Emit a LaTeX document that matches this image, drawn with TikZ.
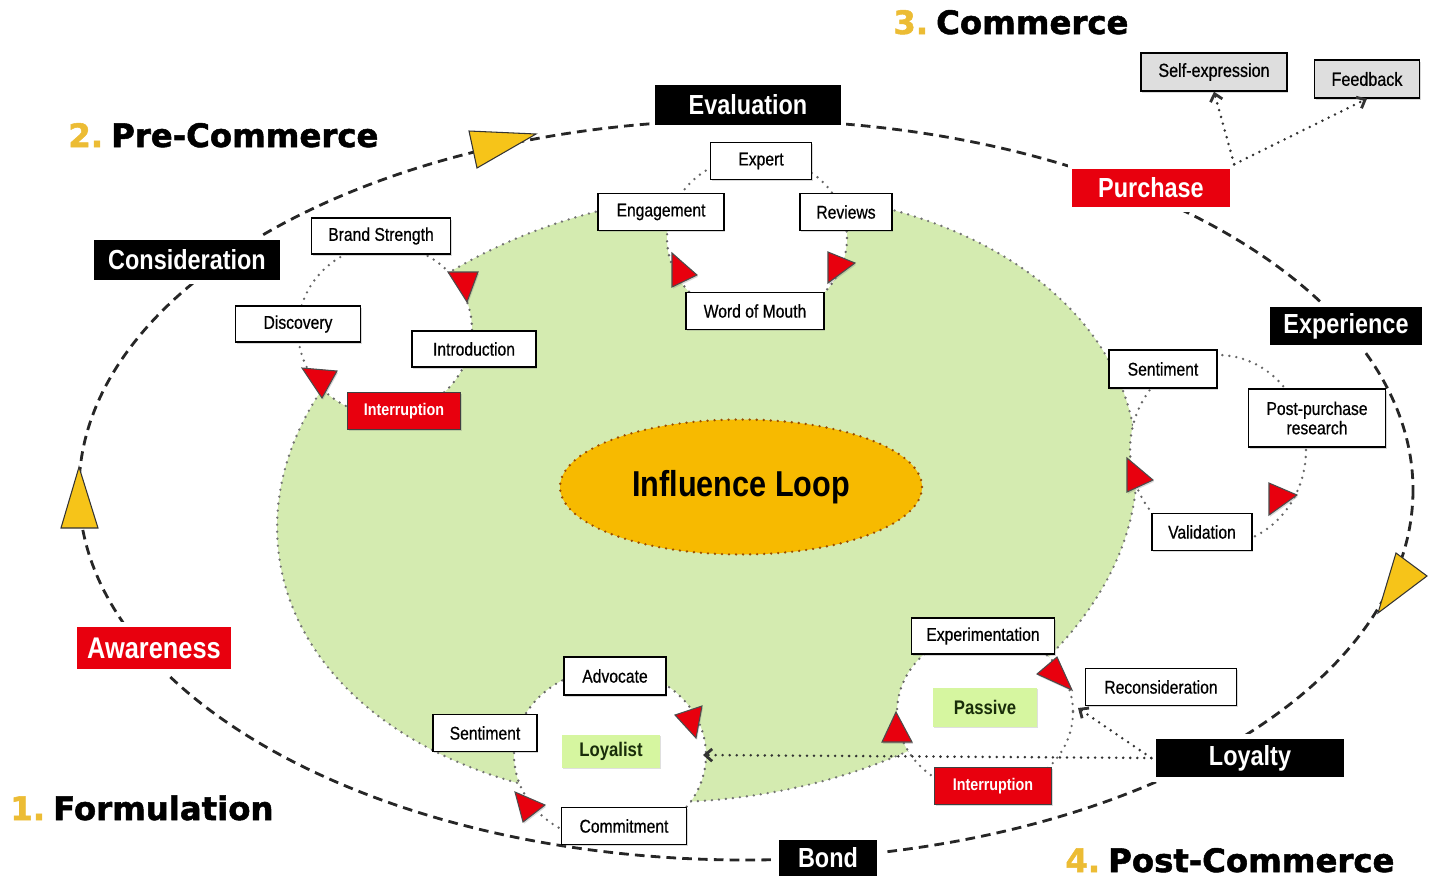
\documentclass[tikz,border=0pt]{standalone}
\usepackage{fontspec}
\setmainfont{Liberation Sans}[FakeStretch=0.85, UprightFeatures={FakeBold=0.6}]
\newfontfamily\titlefont{DejaVu Sans}[BoldFeatures={FakeBold=1.6}]
\usetikzlibrary{shadows,arrows.meta,shapes.geometric}

\definecolor{loopgreen}{RGB}{212,235,176}
\definecolor{loopgold}{RGB}{247,186,0}
\definecolor{stagered}{RGB}{232,0,14}
\definecolor{numgold}{RGB}{236,188,52}
\definecolor{arrowgold}{RGB}{246,196,25}
\definecolor{sharegray}{RGB}{222,222,222}
\definecolor{limefill}{RGB}{214,246,160}
\definecolor{mindtext}{RGB}{25,45,10}

\begin{document}
\begin{tikzpicture}[x=0.02cm, y=-0.02cm,
    phasetitle/.style={anchor=base west, inner sep=0pt, font=\titlefont\bfseries\fontsize{18.4}{20}\selectfont},
    stage/.style={fill=black, text=white, draw=white, line width=2.5pt, inner sep=0pt,
      minimum height=0.88cm, font=\bfseries\fontsize{15.7}{17}\selectfont,
      drop shadow={shadow xshift=0.8pt, shadow yshift=-1.2pt, opacity=0.3}},
    redstage/.style={stage, fill=stagered},
    breakbox/.style={fill=stagered, text=white, draw=black!75, line width=0.8pt, inner sep=0pt,
      minimum height=0.74cm, font=\bfseries\fontsize{9.6}{11}\selectfont,
      drop shadow={shadow xshift=0.6pt, shadow yshift=-1pt, opacity=0.3}},
    touch/.style={fill=white, draw=black, line width=0.8pt, inner sep=0pt,
      minimum height=0.74cm, font=\fontsize{10.5}{12}\selectfont,
      drop shadow={shadow xshift=0.6pt, shadow yshift=-1pt, opacity=0.3}},
    sharebox/.style={touch, fill=sharegray, minimum height=0.76cm, font=\fontsize{10.8}{12}\selectfont},
    mindset/.style={fill=limefill, inner sep=0pt, text=mindtext, font=\bfseries\fontsize{11.2}{12}\selectfont,
      drop shadow={shadow xshift=0.6pt, shadow yshift=-1pt, opacity=0.25}},
    journey/.style={draw=black!85, line width=1.6pt, dash pattern=on 5.5pt off 3.5pt},
    dotline/.style={draw=black!60, line width=1.5pt, line cap=round, dash pattern=on 0pt off 4pt},
    loopring/.style={dotline, fill=white},
    dotlink/.style={dotline, draw=black!80, line width=1.6pt, -{Straight Barb[length=4pt, width=7pt]}},
    goldtip/.style={fill=arrowgold, draw=black!80, line width=0.6pt},
    redtip/.style={fill=stagered, draw=black!70, line width=0.6pt,
      drop shadow={shadow xshift=0.6pt, shadow yshift=-1pt, opacity=0.3}}
  ]
  \useasboundingbox (0,0) rectangle (1431,887);

  % outer journey and influence area
  \draw[journey] (746,490) ellipse [x radius=667, y radius=370];
  \filldraw[dotline, fill=loopgreen, draw=black!55, rotate around={8:(707,497)}] (707,497) ellipse [x radius=432, y radius=302];
  \node[ellipse, fill=loopgold, dotline, draw=orange!60!black, minimum width=7.24cm, minimum height=2.7cm,
    font=\bfseries\fontsize{20.5}{22}\selectfont] (influence) at (741,487) {Influence Loop};

  % the five small loops
  \filldraw[loopring] (385,330) ellipse [x radius=87, y radius=85];
  \filldraw[loopring] (757,238) ellipse [x radius=90, y radius=82];
  \filldraw[loopring] (1218,450) ellipse [x radius=88, y radius=95];
  \filldraw[loopring] (985,712) ellipse [x radius=88, y radius=80];
  \filldraw[loopring] (610,755) ellipse [x radius=96, y radius=86];

  \coordinate (loyalistin) at (703,755);
  \coordinate (reconin) at (1078,708);

  % phase titles
  \node[phasetitle] (formulation) at (10,820) {{\color{numgold}1.}\hspace{0.25em}Formulation};
  \node[phasetitle] (precommerce) at (68,147) {{\color{numgold}2.}\hspace{0.25em}Pre-Commerce};
  \node[phasetitle] (commerce) at (893,34) {{\color{numgold}3.}\hspace{0.25em}Commerce};
  \node[phasetitle] (postcommerce) at (1065,872) {{\color{numgold}4.}\hspace{0.25em}Post-Commerce};

  % stages
  \node[stage, minimum width=3.82cm] (evaluation) at (748,105) {Evaluation};
  \node[stage, minimum width=3.82cm] (consideration) at (187,260) {Consideration};
  \node[stage, minimum width=3.14cm, minimum height=0.84cm] (experience) at (1346,326) {Experience};
  \node[stage, minimum width=3.86cm, minimum height=0.86cm] (loyalty) at (1250,758) {Loyalty};
  \node[stage, minimum width=2.06cm, minimum height=0.82cm] (bond) at (828,858) {Bond};
  \node[redstage, minimum width=3.24cm, minimum height=0.86cm] (purchase) at (1151,188) {Purchase};
  \node[redstage, minimum width=3.16cm, minimum height=0.94cm, font=\bfseries\fontsize{17}{18}\selectfont] (awareness) at (154,648) {Awareness};

  % touch points
  \node[touch, minimum width=2.78cm, minimum height=0.72cm] (brand) at (381,236) {Brand Strength};
  \node[touch, minimum width=2.5cm, minimum height=0.72cm] (discovery) at (298,324) {Discovery};
  \node[touch, minimum width=2.48cm, minimum height=0.72cm] (introduction) at (474,349) {Introduction};
  \node[breakbox, minimum width=2.26cm] (interruptA) at (404,411) {Interruption};
  \node[touch, minimum width=2.02cm] (expert) at (761,161) {Expert};
  \node[touch, minimum width=2.52cm] (engagement) at (661,212) {Engagement};
  \node[touch, minimum width=1.84cm] (reviews) at (846,212) {Reviews};
  \node[touch, minimum width=2.76cm] (wordofmouth) at (755,311) {Word of Mouth};
  \node[touch, minimum width=2.16cm, minimum height=0.76cm] (sentimentA) at (1163,369) {Sentiment};
  \node[touch, minimum width=2.74cm, minimum height=1.16cm, align=center] (research) at (1317,418) {Post-purchase\\[-1pt]research};
  \node[touch, minimum width=2cm] (validation) at (1202,532) {Validation};
  \node[touch, minimum width=2.86cm, minimum height=0.72cm] (experiment) at (983,636) {Experimentation};
  \node[touch, minimum width=3.02cm] (reconsider) at (1161,687) {Reconsideration};
  \node[breakbox, minimum width=2.34cm] (interruptB) at (993,786) {Interruption};
  \node[mindset, minimum width=2.08cm, minimum height=0.78cm] (passive) at (985,707) {Passive};
  \node[touch, minimum width=2.04cm, minimum height=0.76cm] (advocate) at (615,676) {Advocate};
  \node[touch, minimum width=2.08cm] (sentimentB) at (485,733) {Sentiment};
  \node[touch, minimum width=2.5cm] (commitment) at (624,826) {Commitment};
  \node[mindset, minimum width=1.96cm, minimum height=0.66cm] (loyalist) at (611,751) {Loyalist};
  \node[sharebox, minimum width=2.92cm] (selfexp) at (1214,72) {Self-expression};
  \node[sharebox, minimum width=2.1cm] (feedback) at (1367,79) {Feedback};

  \draw[dotlink] (purchase.north east) -- (selfexp.south);
  \draw[dotlink] (purchase.north east) -- (feedback.south);
  \draw[dotlink] (loyalty.west) -- (loyalistin);
  \draw[dotlink] (loyalty.west) -- (reconin);

  % direction marks
  \filldraw[goldtip] (61,528) -- (79,467) -- (98,528) -- cycle;
  \filldraw[goldtip] (469,131) -- (536,134) -- (477,168) -- cycle;
  \filldraw[goldtip] (1396,553) -- (1427,576) -- (1378,613) -- cycle;

  \filldraw[redtip] (448,272) -- (478,272) -- (467,302) -- cycle;
  \filldraw[redtip] (302,368) -- (337,371) -- (322,398) -- cycle;
  \filldraw[redtip] (672,253) -- (672,287) -- (697,275) -- cycle;
  \filldraw[redtip] (828,252) -- (828,283) -- (855,263) -- cycle;
  \filldraw[redtip] (1127,458) -- (1127,492) -- (1153,480) -- cycle;
  \filldraw[redtip] (1269,483) -- (1269,515) -- (1297,495) -- cycle;
  \filldraw[redtip] (882,742) -- (912,742) -- (896,712) -- cycle;
  \filldraw[redtip] (1037,674) -- (1057,657) -- (1072,690) -- cycle;
  \filldraw[redtip] (675,715) -- (702,706) -- (696,738) -- cycle;
  \filldraw[redtip] (515,792) -- (545,805) -- (523,822) -- cycle;

\end{tikzpicture}
\end{document}
